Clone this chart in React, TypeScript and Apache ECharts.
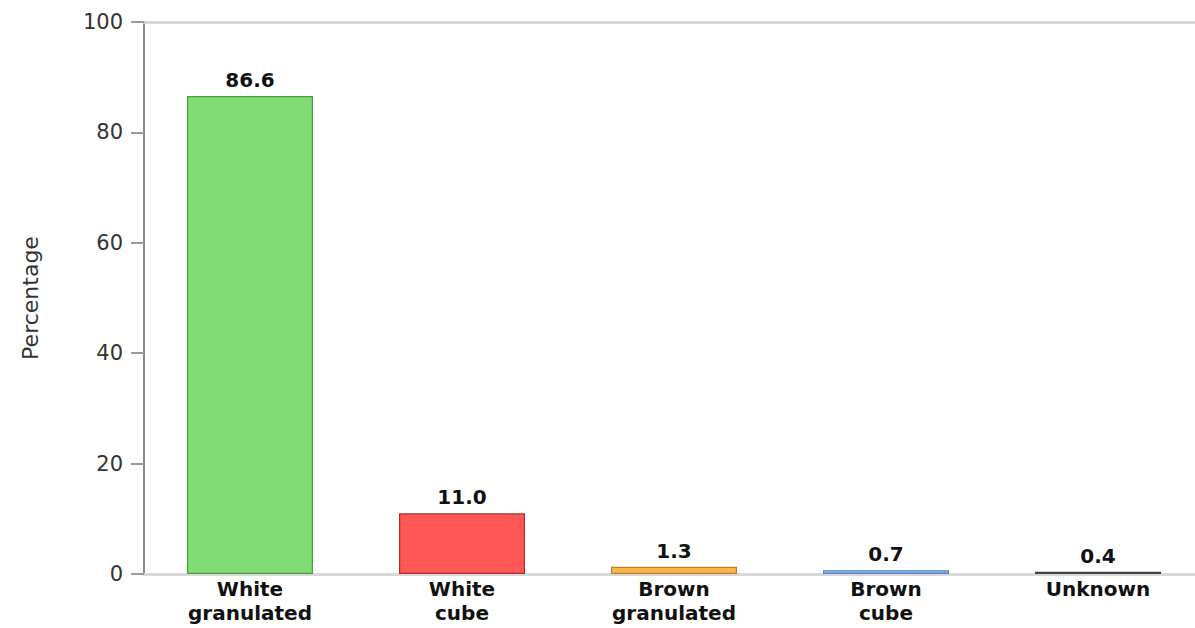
import React, { useEffect, useRef } from "react";
import * as echarts from "echarts";

const categories = ["White\ngranulated", "White\ncube", "Brown\ngranulated", "Brown\ncube", "Unknown"];
const percentages = [86.6, 11.0, 1.3, 0.7, 0.4];
const fillColors = ["#80dc74", "#ff5656", "#fbb54c", "#8ab4f2", "#6e6e6e"];
const borderColors = ["#4f9a45", "#a83232", "#c08020", "#5a82c0", "#444444"];
const yTicks = [0, 20, 40, 60, 80, 100];

const FONT = "'DejaVu Sans', Verdana, sans-serif";

export default function App() {
  const ref = useRef<HTMLDivElement>(null);

  useEffect(() => {
    document.body.style.margin = "0";
    const chart = echarts.init(ref.current!, null, { renderer: "svg" });
    chart.setOption({
      animation: false,
      backgroundColor: "#ffffff",
      grid: {
        left: 144,
        right: 6,
        top: 22,
        bottom: 54,
        containLabel: false,
        outerBoundsMode: "none",
      },
      xAxis: [
        {
          type: "category",
          data: categories,
          axisLine: { show: true, lineStyle: { color: "#d8d8d8", width: 3 } },
          axisTick: { show: false },
          axisLabel: {
            color: "#111",
            fontFamily: FONT,
            fontWeight: "bold",
            fontSize: 20,
            lineHeight: 24,
            margin: 3,
          },
        },
        {
          type: "category",
          position: "top",
          data: categories,
          axisLine: { show: true, lineStyle: { color: "#cfcfcf", width: 2.5 } },
          axisTick: { show: false },
          axisLabel: { show: false },
        },
      ],
      yAxis: {
        type: "value",
        min: yTicks[0],
        max: yTicks[yTicks.length - 1],
        interval: 20,
        name: "Percentage",
        nameLocation: "middle",
        nameGap: 103,
        nameTextStyle: { color: "#333", fontFamily: FONT, fontSize: 22 },
        axisLine: { show: true, lineStyle: { color: "#8a8a8a", width: 2 } },
        axisTick: { show: true, length: 13, lineStyle: { color: "#9a9a9a", width: 2 } },
        axisLabel: { color: "#333", fontFamily: FONT, fontSize: 21, margin: 21 },
        splitLine: { show: false },
      },
      series: [
        {
          type: "bar",
          barWidth: 126,
          data: percentages.map((v, i) => ({
            value: v,
            itemStyle: { color: fillColors[i], borderColor: borderColors[i], borderWidth: 1.2 },
          })),
          label: {
            show: true,
            position: "top",
            distance: 6,
            color: "#111",
            fontFamily: FONT,
            fontWeight: "bold",
            fontSize: 20,
            formatter: (p: any) => Number(p.value).toFixed(1),
          },
        },
      ],
    });
    return () => chart.dispose();
  }, []);

  return (
    <div style={{ width: 1195, height: 628, overflow: "hidden" }}>
      <div ref={ref} style={{ width: 1210, height: 628 }} />
    </div>
  );
}
